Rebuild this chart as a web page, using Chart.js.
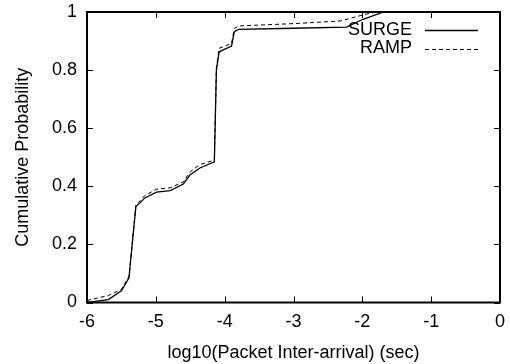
<!DOCTYPE html>
<html>
<head>
<meta charset="utf-8">
<script src="https://cdn.jsdelivr.net/npm/chart.js@4"></script>
<style>
  html, body { margin: 0; padding: 0; background: #fff; }
  #wrap { width: 510px; height: 364px; }
</style>
</head>
<body>
<div id="wrap"><canvas id="cdf" width="510" height="364"></canvas></div>
<script>
// datos (log10 del intervalo, probabilidad acumulada)
const surgeX = [-6.00, -5.69, -5.50, -5.39, -5.29, -5.23, -5.16, -4.99, -4.79, -4.60, -4.50, -4.36, -4.15, -4.12, -4.08, -3.90, -3.86, -3.80, -3.00, -2.23, -1.99, -1.69];
const surgeY = [0.000, 0.010, 0.040, 0.085, 0.330, 0.343, 0.360, 0.380, 0.385, 0.408, 0.440, 0.463, 0.484, 0.800, 0.863, 0.883, 0.932, 0.940, 0.944, 0.948, 0.975, 1.000];
const rampX = [-6.00, -5.69, -5.50, -5.39, -5.29, -5.23, -5.16, -4.99, -4.79, -4.60, -4.50, -4.36, -4.15, -4.12, -4.08, -3.90, -3.86, -3.80, -3.00, -2.32, -1.99, -1.80];
const rampY = [0.007, 0.024, 0.045, 0.090, 0.335, 0.350, 0.368, 0.390, 0.395, 0.415, 0.450, 0.475, 0.490, 0.810, 0.875, 0.892, 0.943, 0.952, 0.960, 0.969, 0.990, 1.000];
const seriesNames = ['SURGE', 'RAMP'];
const xTicks = [-6, -5, -4, -3, -2, -1, 0];
const yTicks = [0, 0.2, 0.4, 0.6, 0.8, 1];

const FONT = 'Liberation Sans, Arial, Helvetica, sans-serif';
const TAM = 18;

function puntos(xs, ys) {
    return xs.map((x, i) => ({ x: x, y: ys[i] }));
}

// dibuja las marcas hacia adentro en los cuatro lados y la leyenda estilo gnuplot
const marcasPlugin = {
    id: 'marcas',
    afterDraw(chart) {
        const ctx = chart.ctx;
        const a = chart.chartArea;
        const sx = chart.scales.x, sy = chart.scales.y;
        const len = 6;
        ctx.save();
        ctx.strokeStyle = '#000';
        ctx.lineWidth = 1;
        ctx.beginPath();
        xTicks.forEach(v => {
            const px = Math.round(sx.getPixelForValue(v)) + 0.5;
            ctx.moveTo(px, a.bottom); ctx.lineTo(px, a.bottom - len);
            ctx.moveTo(px, a.top); ctx.lineTo(px, a.top + len);
        });
        yTicks.forEach(v => {
            const py = Math.round(sy.getPixelForValue(v)) + 0.5;
            ctx.moveTo(a.left, py); ctx.lineTo(a.left + len, py);
            ctx.moveTo(a.right, py); ctx.lineTo(a.right - len, py);
        });
        ctx.stroke();
        ctx.lineWidth = 2;
        ctx.strokeRect(a.left, a.top, a.right - a.left, a.bottom - a.top);

        // leyenda
        ctx.font = TAM + 'px ' + FONT;
        ctx.fillStyle = '#000';
        ctx.textAlign = 'right';
        ctx.textBaseline = 'middle';
        const estilos = [[], [4, 3]];
        const anchos = [1.3, 1];
        seriesNames.forEach((n, i) => {
            const y = 30 + i * 18.5;
            ctx.fillText(n, 412, y);
            ctx.beginPath();
            ctx.setLineDash(estilos[i]);
            ctx.lineWidth = anchos[i];
            ctx.moveTo(425, Math.round(y) + 0.5);
            ctx.lineTo(478, Math.round(y) + 0.5);
            ctx.stroke();
        });
        ctx.restore();
    }
};

window.onload = function () {
    const ctx = document.getElementById('cdf').getContext('2d');
    new Chart(ctx, {
        type: 'line',
        data: {
            datasets: [{
                label: seriesNames[0],
                data: puntos(surgeX, surgeY),
                borderColor: '#000',
                borderWidth: 1.3,
                pointRadius: 0,
                tension: 0,
                fill: false
            }, {
                label: seriesNames[1],
                data: puntos(rampX, rampY),
                borderColor: '#000',
                borderWidth: 1,
                borderDash: [4, 3],
                pointRadius: 0,
                tension: 0,
                fill: false
            }]
        },
        options: {
            responsive: false,
            animation: false,
            events: [],
            layout: { padding: { top: 12, right: 10, left: 0, bottom: 0 } },
            plugins: { legend: { display: false }, tooltip: { enabled: false } },
            scales: {
                x: {
                    type: 'linear',
                    min: -6, max: 0,
                    afterBuildTicks: s => { s.ticks = xTicks.map(v => ({ value: v })); },
                    afterFit: s => { s.height = 61.5; s.paddingLeft = 0; s.paddingRight = 0; },
                    grid: { display: false, drawTicks: false },
                    border: { display: false },
                    ticks: {
                        color: '#000',
                        padding: 9,
                        font: { family: FONT, size: TAM },
                        maxRotation: 0,
                        callback: v => String(v)
                    },
                    title: {
                        display: true,
                        text: 'log10(Packet Inter-arrival) (sec)',
                        color: '#000',
                        font: { family: FONT, size: TAM },
                        padding: { top: 3, bottom: 0 }
                    }
                },
                y: {
                    type: 'linear',
                    min: 0, max: 1,
                    afterBuildTicks: s => { s.ticks = yTicks.map(v => ({ value: v })); },
                    afterFit: s => { s.width = 87; s.paddingTop = 0; s.paddingBottom = 0; },
                    grid: { display: false, drawTicks: false },
                    border: { display: false },
                    ticks: {
                        color: '#000',
                        padding: 10,
                        font: { family: FONT, size: TAM },
                        callback: v => String(Math.round(v * 10) / 10)
                    },
                    title: {
                        display: true,
                        text: 'Cumulative Probability',
                        color: '#000',
                        font: { family: FONT, size: TAM },
                        padding: { top: 12, bottom: 0 }
                    }
                }
            }
        },
        plugins: [marcasPlugin]
    });
};
</script>
</body>
</html>
